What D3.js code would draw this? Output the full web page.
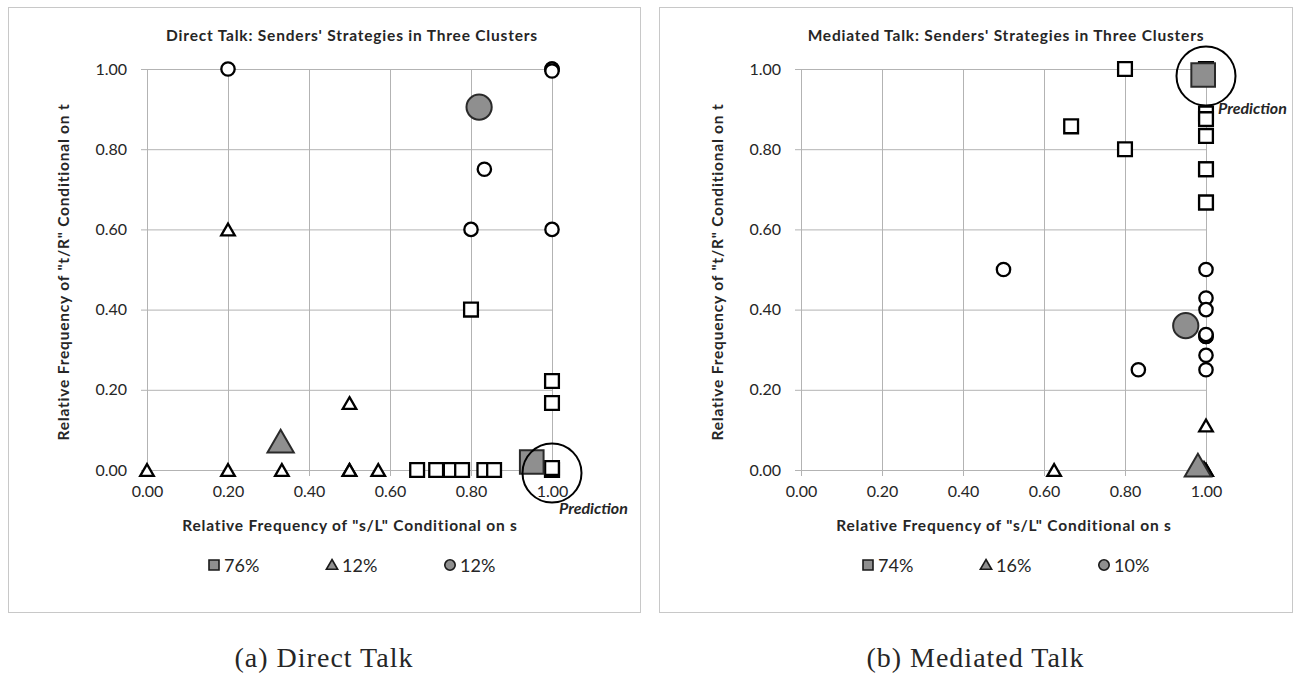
<!DOCTYPE html>
<html>
<head>
<meta charset="utf-8">
<script src="https://cdn.jsdelivr.net/npm/d3@7"></script>
<style>
  body { margin: 0; background: #fff; }
  text { font-family: Lato, "Liberation Sans", sans-serif; fill: #262626; }
</style>
</head>
<body>
<script>
"use strict";

// tick values used on both axes of both panels
var tickValues = [0, 0.2, 0.4, 0.6, 0.8, 1.0];

// ---- (a) Direct Talk ----
var directSquares = [[0.8, 0.4], [1.0, 0.222], [1.0, 0.167], [0.667, 0], [0.714, 0], [0.75, 0], [0.75, 0],
    [0.778, 0], [0.833, 0], [0.857, 0], [1.0, 0], [1.0, 0], [1.0, 0], [1.0, 0.005]];
var directTriangles = [[0, 0], [0.2, 0], [0.333, 0], [0.5, 0], [0.5, 0], [0.571, 0], [0.5, 0.167], [0.2, 0.6]];
var directCircles = [[0.2, 1.0], [1.0, 1.0], [1.0, 1.0], [1.0, 0.995], [0.833, 0.75], [0.8, 0.6], [1.0, 0.6]];
var directCentroids = {square: [0.95, 0.02], triangle: [0.33, 0.07], circle: [0.82, 0.905]};
var directShares = ["76%", "12%", "12%"];
var directPrediction = [1.0, 0.0];

// ---- (b) Mediated Talk ----
var mediatedSquares = [[0.8, 1.0], [0.667, 0.857], [0.8, 0.8], [1.0, 1.0], [1.0, 1.0], [1.0, 0.995],
    [1.0, 0.889], [1.0, 0.875], [1.0, 0.833], [1.0, 0.75], [1.0, 0.75], [1.0, 0.667], [1.0, 0.667]];
var mediatedTriangles = [[0.625, 0], [1.0, 0.111], [1.0, 0], [1.0, 0], [0.995, 0.005], [0.99, 0]];
var mediatedCircles = [[0.5, 0.5], [0.833, 0.25], [1.0, 0.5], [1.0, 0.429], [1.0, 0.4], [1.0, 0.333],
    [1.0, 0.333], [1.0, 0.338], [1.0, 0.286], [1.0, 0.25]];
var mediatedCentroids = {square: [0.993, 0.985], triangle: [0.98, 0.01], circle: [0.95, 0.36]};
var mediatedShares = ["74%", "16%", "10%"];
var mediatedPrediction = [1.0, 0.99];

var titles = ["Direct Talk: Senders' Strategies in Three Clusters", "Mediated Talk: Senders' Strategies in Three Clusters"];
var captions = ["(a) Direct Talk", "(b) Mediated Talk"];
var xTitle = 'Relative Frequency of "s/L" Conditional on s';
var yTitle = 'Relative Frequency of "t/R" Conditional on t';

var svg = d3.select("body").append("svg").attr("width", 1301).attr("height", 676);
svg.append("rect").attr("width", 1301).attr("height", 676).attr("fill", "#fff");

var gridColor = "#b3b3b3";
var grayFill = "#8f8f8f";

function symbolPath(type, size){
    var t = type === "square" ? d3.symbolSquare : type === "triangle" ? d3.symbolTriangle : d3.symbolCircle;
    return d3.symbol().type(t).size(size)();
}

function drawPanel(opt){
    var g = svg.append("g").attr("transform", "translate(" + opt.left + ",0)");
    // frame
    g.append("rect").attr("x", 0.5).attr("y", 7.5).attr("width", opt.frameW).attr("height", 605)
        .attr("fill", "#fff").attr("stroke", "#c8c8c8").attr("stroke-width", 1);

    var x = d3.scaleLinear().domain([0, 1]).range([opt.x0, opt.x0 + 405]);
    var y = d3.scaleLinear().domain([0, 1]).range([470, 69]);

    // gridlines
    var gx = g.append("g").attr("transform", "translate(0,470)")
        .call(d3.axisBottom(x).tickValues(tickValues).tickSizeInner(-401).tickSizeOuter(0).tickFormat(""));
    var gy = g.append("g").attr("transform", "translate(" + opt.x0 + ",0)")
        .call(d3.axisLeft(y).tickValues(tickValues).tickSizeInner(-405).tickSizeOuter(0).tickFormat(""));
    [gx, gy].forEach(function(a){
        a.select(".domain").remove();
        a.selectAll(".tick line").attr("stroke", gridColor);
    });

    // axes with short outer ticks
    var xAxis = g.append("g").attr("transform", "translate(0,470)")
        .call(d3.axisBottom(x).tickValues(tickValues).tickSizeInner(6).tickSizeOuter(0).tickPadding(10).tickFormat(d3.format(".2f")));
    var yAxis = g.append("g").attr("transform", "translate(" + opt.x0 + ",0)")
        .call(d3.axisLeft(y).tickValues(tickValues).tickSizeInner(6).tickSizeOuter(0).tickPadding(14).tickFormat(d3.format(".2f")));
    [xAxis, yAxis].forEach(function(a){
        a.select(".domain").attr("stroke", gridColor);
        a.selectAll(".tick line").attr("stroke", gridColor);
        a.selectAll(".tick text").attr("font-size", 16).attr("font-family", "Lato").attr("fill", "#262626");
    });

    // titles
    g.append("text").attr("x", opt.x0 + 205).attr("y", 41).attr("text-anchor", "middle")
        .attr("font-size", 15.5).attr("letter-spacing", 0.8).attr("font-weight", "bold").text(opt.title);
    g.append("text").attr("x", opt.x0 + 203).attr("y", 531).attr("text-anchor", "middle")
        .attr("font-size", 15.5).attr("letter-spacing", 0.8).attr("font-weight", "bold").text(xTitle);
    g.append("text").attr("transform", "translate(" + (opt.x0 - 78) + ",272) rotate(-90)")
        .attr("text-anchor", "middle").attr("font-size", 15.5).attr("letter-spacing", 0.8)
        .attr("font-weight", "bold").text(yTitle);

    // open member markers
    var groups = [["square", opt.squares, 190], ["triangle", opt.triangles, 80], ["circle", opt.circles, 140]];
    groups.forEach(function(gr){
        g.selectAll(null).data(gr[1]).enter().append("path")
            .attr("d", symbolPath(gr[0], gr[2]))
            .attr("transform", function(d){
                var dy = gr[0] === "triangle" ? 2 : 0;
                return "translate(" + x(d[0]) + "," + (y(d[1]) + dy) + ")";
            })
            .attr("fill", "#fff").attr("stroke", "#000").attr("stroke-width", 2.3);
    });

    // cluster centroids
    var cSizes = {square: 560, triangle: 300, circle: 500};
    ["square", "triangle", "circle"].forEach(function(k){
        var d = opt.centroids[k];
        var dy = k === "triangle" ? 3 : 0;
        g.append("path").attr("d", symbolPath(k, cSizes[k]))
            .attr("transform", "translate(" + x(d[0]) + "," + (y(d[1]) + dy) + ")")
            .attr("fill", grayFill).attr("stroke", "#2a2a2a").attr("stroke-width", 2);
    });

    // prediction ring + label
    var p = opt.prediction;
    g.append("circle").attr("cx", x(p[0])).attr("cy", y(p[1]) + 3).attr("r", 29.5)
        .attr("fill", "none").attr("stroke", "#000").attr("stroke-width", 2);
    g.append("text").attr("x", x(p[0]) + opt.predDx).attr("y", y(p[1]) + opt.predDy)
        .attr("font-size", 16).attr("font-weight", "bold").attr("font-style", "italic").text("Prediction");

    // legend
    var legendKeys = ["square", "triangle", "circle"];
    var lg = g.selectAll(".leg").data(legendKeys).enter().append("g")
        .attr("transform", function(d, i){ return "translate(" + (opt.x0 + 67 + i * 118) + ",565)"; });
    lg.append("path").attr("d", function(d){ return symbolPath(d, d === "triangle" ? 55 : d === "square" ? 100 : 85); })
        .attr("transform", function(d){ return d === "triangle" ? "translate(0,1)" : null; })
        .attr("fill", grayFill).attr("stroke", "#1a1a1a").attr("stroke-width", 1.6);
    lg.append("text").attr("x", 10).attr("y", 7).attr("font-size", 18)
        .text(function(d, i){ return opt.shares[i]; });

    // caption
    svg.append("text").attr("x", opt.left + opt.frameW / 2).attr("y", 667).attr("text-anchor", "middle")
        .style("font-family", "'Liberation Serif', serif").attr("font-size", 28).attr("letter-spacing", 1)
        .attr("fill", "#000").text(opt.caption);
}

drawPanel({left: 8, frameW: 632, x0: 139, title: titles[0], caption: captions[0],
    squares: directSquares, triangles: directTriangles, circles: directCircles,
    centroids: directCentroids, shares: directShares, prediction: directPrediction, predDx: 7, predDy: 44});
drawPanel({left: 659, frameW: 633, x0: 142, title: titles[1], caption: captions[1],
    squares: mediatedSquares, triangles: mediatedTriangles, circles: mediatedCircles,
    centroids: mediatedCentroids, shares: mediatedShares, prediction: mediatedPrediction, predDx: 12, predDy: 41});
</script>
</body>
</html>
